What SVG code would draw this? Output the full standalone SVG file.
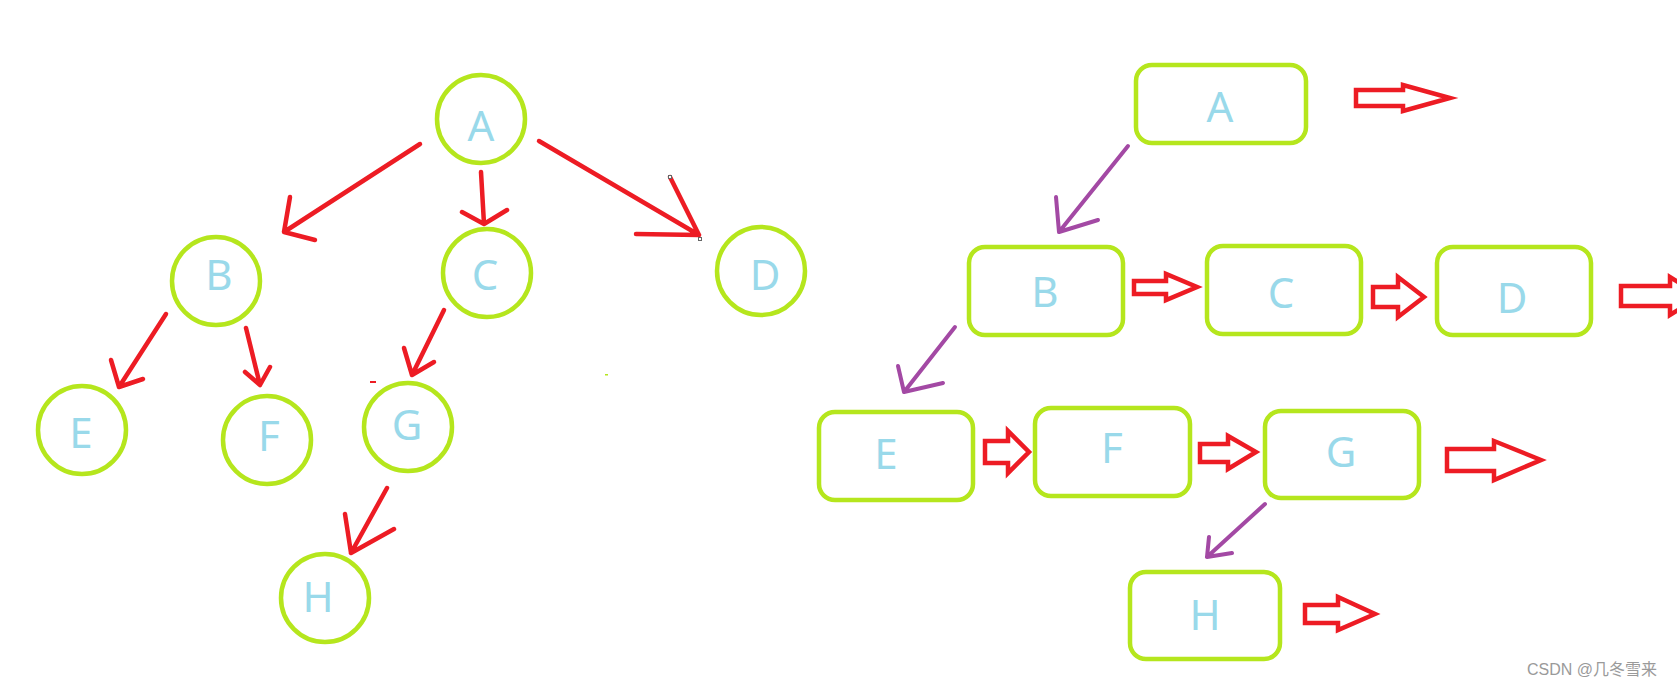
<svg xmlns="http://www.w3.org/2000/svg" width="1677" height="687" viewBox="0 0 1677 687">
<style>
.c{fill:none;stroke:#b5e61d;stroke-width:4.5}
.r{fill:none;stroke:#b5e61d;stroke-width:4.5}
.t{font-family:"Noto Sans","Liberation Sans",sans-serif;font-size:42px;fill:#99d9ea;text-anchor:middle}
.ra{fill:none;stroke:#ed1c24;stroke-width:4.5;stroke-linecap:round;stroke-linejoin:round}
.pa{fill:none;stroke:#a349a4;stroke-width:4;stroke-linecap:round;stroke-linejoin:round}
.ha{fill:#fff;stroke:#ed1c24;stroke-width:4.5;stroke-linejoin:miter}
.wm{font-family:"Liberation Sans","Noto Sans CJK SC",sans-serif;font-size:16px;fill:#9a9a9a}
</style>
<rect width="1677" height="687" fill="#fff"/>
<g id="tree">
<g id="tA"><circle class="c" cx="481" cy="119" r="44"/><text class="t" x="481" y="141">A</text></g>
<g id="tB"><circle class="c" cx="216" cy="281" r="44"/><text class="t" x="219" y="290">B</text></g>
<g id="tC"><circle class="c" cx="487" cy="273" r="44"/><text class="t" x="485" y="290">C</text></g>
<g id="tD"><circle class="c" cx="761" cy="271" r="44"/><text class="t" x="765" y="290">D</text></g>
<g id="tE"><circle class="c" cx="82" cy="430" r="44"/><text class="t" x="81" y="448">E</text></g>
<g id="tF"><circle class="c" cx="267" cy="440" r="44"/><text class="t" x="269" y="451">F</text></g>
<g id="tG"><circle class="c" cx="408" cy="427" r="44"/><text class="t" x="407" y="440">G</text></g>
<g id="tH"><circle class="c" cx="325" cy="598" r="44"/><text class="t" x="318" y="612">H</text></g>
</g>
<g id="list">
<g id="lA"><rect class="r" x="1136" y="65" width="170" height="78" rx="16"/><text class="t" x="1220" y="122">A</text></g>
<g id="lB"><rect class="r" x="969" y="247" width="154" height="88" rx="16"/><text class="t" x="1045" y="307">B</text></g>
<g id="lC"><rect class="r" x="1207" y="246" width="154" height="88" rx="16"/><text class="t" x="1281" y="308">C</text></g>
<g id="lD"><rect class="r" x="1437" y="247" width="154" height="88" rx="16"/><text class="t" x="1512" y="313">D</text></g>
<g id="lE"><rect class="r" x="819" y="412" width="154" height="88" rx="16"/><text class="t" x="886" y="469">E</text></g>
<g id="lF"><rect class="r" x="1035" y="408" width="155" height="88" rx="16"/><text class="t" x="1112" y="463">F</text></g>
<g id="lG"><rect class="r" x="1265" y="411" width="154" height="87" rx="16"/><text class="t" x="1341" y="467">G</text></g>
<g id="lH"><rect class="r" x="1130" y="572" width="150" height="87" rx="16"/><text class="t" x="1205" y="630">H</text></g>
</g>
<g id="connectors">
<path class="ra" d="M420,144 L284,232 M290,197 L284,232 L315,240"/>
<path class="ra" d="M481,172 L484,224 M462,212 L484,224 L507,210"/>
<path class="ra" d="M539,141 L699,235 M670,177 L699,235 L636,234"/>
<path class="ra" d="M166,314 L119,387 M111,360 L119,387 L143,379"/>
<path class="ra" d="M246,328 L260,385 M245,372 L260,385 L270,367"/>
<path class="ra" d="M444,310 L412,375 M404,348 L412,375 L434,362"/>
<path class="ra" d="M387,488 L351,553 M345,514 L351,553 L394,529"/>
<path class="pa" d="M1128,146 L1059,232 M1056,197 L1059,232 L1098,220"/>
<path class="pa" d="M955,327 L904,392 M898,366 L904,392 L943,383"/>
<path class="pa" d="M1265,504 L1207,557 M1209,537 L1207,557 L1232,553"/>
<path class="ha" d="M1356,90 L1403,90 L1403,85 L1450,98 L1403,111 L1403,106 L1356,106 Z"/>
<path class="ha" d="M1134,281 L1166,281 L1166,274 L1197,287 L1166,300 L1166,294 L1134,294 Z"/>
<path class="ha" d="M1373,287 L1398,287 L1398,277 L1424,297 L1398,317 L1398,307 L1373,307 Z"/>
<path class="ha" d="M1621,286 L1670,286 L1670,277 L1700,296 L1670,315 L1670,306 L1621,306 Z"/>
<path class="ha" d="M985,441 L1008,441 L1008,431 L1029,452 L1008,473 L1008,463 L985,463 Z"/>
<path class="ha" d="M1200,444 L1228,444 L1228,436 L1256,452 L1228,469 L1228,462 L1200,462 Z"/>
<path class="ha" d="M1447,449 L1494,449 L1494,441 L1541,460 L1494,480 L1494,471 L1447,471 Z"/>
<path class="ha" d="M1305,605 L1338,605 L1338,597 L1375,614 L1338,630 L1338,623 L1305,623 Z"/>
</g>
<g id="marks">
<rect x="668.5" y="175.5" width="3" height="3" fill="#fff" stroke="#666" stroke-width="1"/>
<rect x="698.5" y="237.5" width="3" height="3" fill="#fff" stroke="#666" stroke-width="1"/>
<rect x="370" y="381" width="6" height="2" fill="#ed1c24"/>
<rect x="605" y="374" width="3" height="1.5" fill="#b5e61d"/>
</g>
<text class="wm" x="1527" y="675">CSDN @几冬雪来</text>
</svg>
